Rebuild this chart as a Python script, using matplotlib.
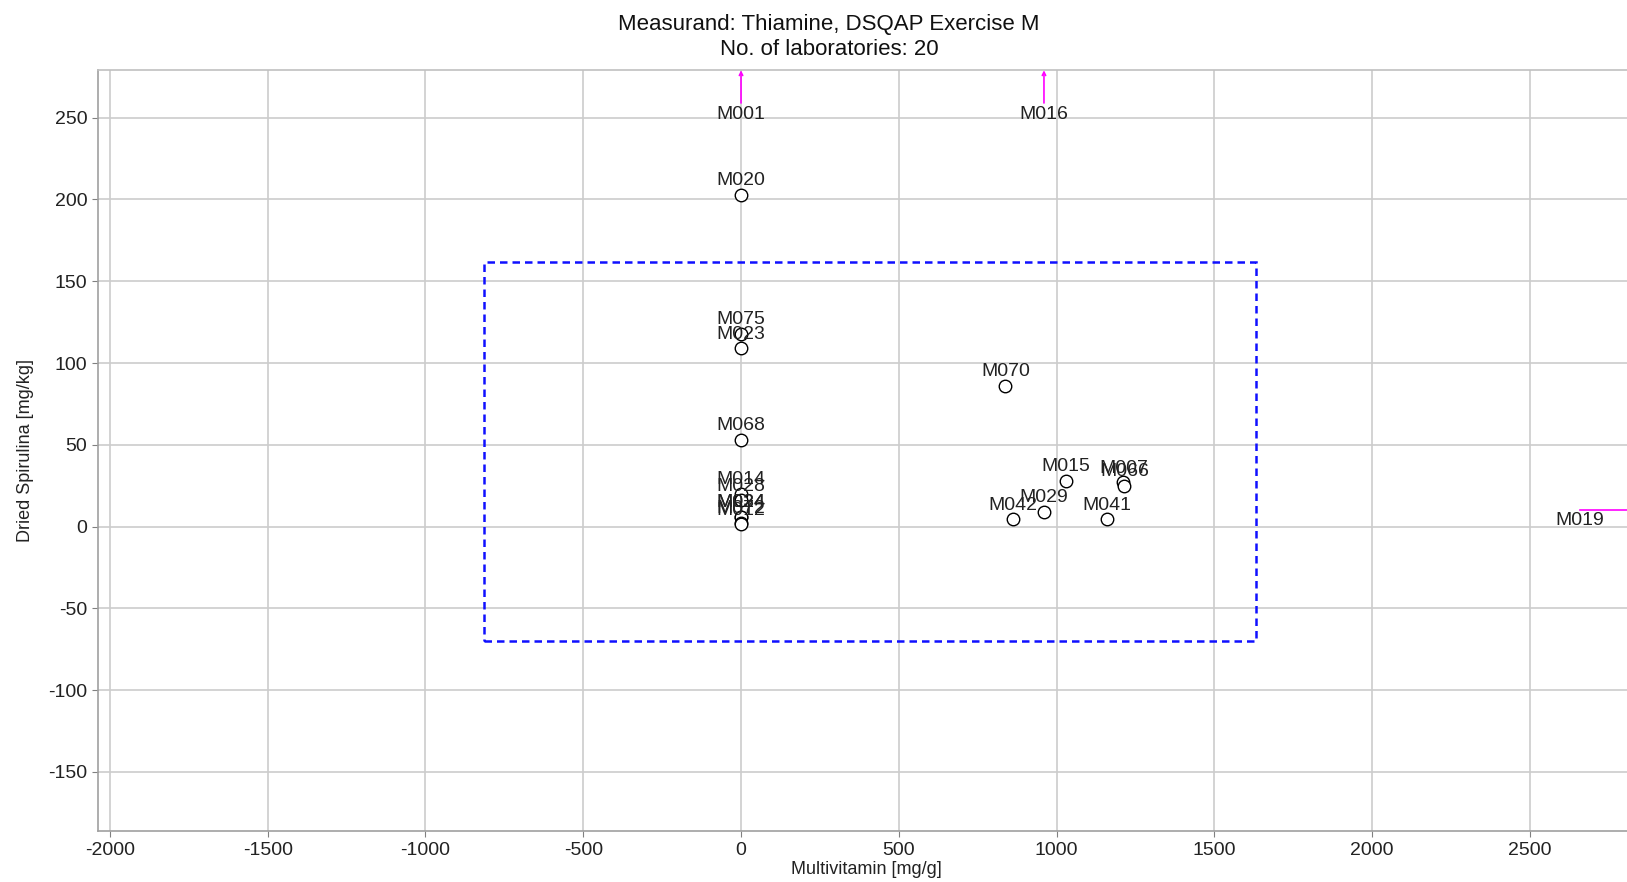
import matplotlib
matplotlib.use("Agg")
from matplotlib import pyplot as plt
from matplotlib.patches import Rectangle

plt.rcParams['font.family'] = ['Liberation Sans', 'DejaVu Sans']
plt.rcParams['axes.unicode_minus'] = False

# ===================== data =====================
lab_ids = ["M020", "M075", "M023", "M068", "M070", "M015", "M007", "M066",
            "M029", "M042", "M041", "M014", "M028", "M024", "M034", "M072", "M012"]
multivitamin = [0, 0, 0, 0, 838, 1030, 1212, 1215,
                960, 862, 1160, 0, 0, 0, 0, 0, 0]
spirulina = [203, 118, 109, 53, 86, 28, 27, 25,
             9, 4.5, 4.5, 20, 16, 6, 6, 2.5, 1.5]

# labs that are off the scale (drawn as arrows)
off_top_ids = ["M001", "M016"]
off_top_x = [0, 960]
off_right_ids = ["M019"]
off_right_y = [10]

# acceptance box
box_x = (-816, 1632)
box_y = (-70, 162)

xticks = [-2000, -1500, -1000, -500, 0, 500, 1000, 1500, 2000, 2500]
yticks = [-150, -100, -50, 0, 50, 100, 150, 200, 250]
xlim = (-2039, 2836)
ylim = (-186.3, 279)

# ===================== plot =====================
fig = plt.figure(figsize=(16.27, 8.82), dpi=100)
ax = fig.add_axes([0.060, 0.0575, 0.9455, 0.8628])

ax.set_xlim(*xlim)
ax.set_ylim(*ylim)
ax.set_xticks(xticks)
ax.set_yticks(yticks)
ax.grid(True, color='#cccccc', linewidth=1.2)
ax.set_axisbelow(True)

ax.spines['right'].set_visible(False)
ax.spines['top'].set_color('#c0c0c0')
ax.spines['left'].set_color('#a0a0a0')
ax.spines['bottom'].set_color('#a0a0a0')
for s in ['left', 'bottom', 'top']:
    ax.spines[s].set_linewidth(1.2)
ax.tick_params(axis='both', labelsize=14, color='#808080', length=4,
               labelcolor='#222222')

# box
rect = Rectangle((box_x[0], box_y[0]), box_x[1] - box_x[0], box_y[1] - box_y[0],
                 fill=False, ec='#1010ff', ls=(0, (3, 2)), lw=1.8, zorder=2)
ax.add_patch(rect)

# points
ax.plot(multivitamin, spirulina, 'o', mfc='white', mec='black', mew=1.0,
        ms=9, zorder=3, ls='none')
for name, xv, yv in zip(lab_ids, multivitamin, spirulina):
    ax.annotate(name, (xv, yv), xytext=(0, 4), textcoords='offset points',
                ha='center', va='bottom', fontsize=14, color='#222222', zorder=4)

# off-scale labs
for name, xv in zip(off_top_ids, off_top_x):
    ax.annotate('', xy=(xv, ylim[1]), xytext=(xv, 259),
                arrowprops=dict(arrowstyle='->', color='#ff00ff', lw=1.2,
                                mutation_scale=6, shrinkA=0, shrinkB=0))
    ax.text(xv, 252, name, ha='center', va='center', fontsize=14, color='#222222')

for name, yv in zip(off_right_ids, off_right_y):
    ax.plot([2658, xlim[1]], [yv, yv], color='#ff00ff', lw=1.2, clip_on=False)
    ax.text(2658, yv - 6, name, ha='center', va='center', fontsize=14, color='#222222')

ax.set_xlabel("Multivitamin [mg/g]", fontsize=13, labelpad=2, color='#222222')
ax.set_ylabel("Dried Spirulina [mg/kg]", fontsize=13, labelpad=10, color='#222222')
fig.text(0.5096, 0.9315, "Measurand: Thiamine, DSQAP Exercise M\nNo. of laboratories: 20",
         ha='center', va='bottom', fontsize=16, color='#111111', linespacing=1.3)

fig.savefig("out.png", dpi=100)
